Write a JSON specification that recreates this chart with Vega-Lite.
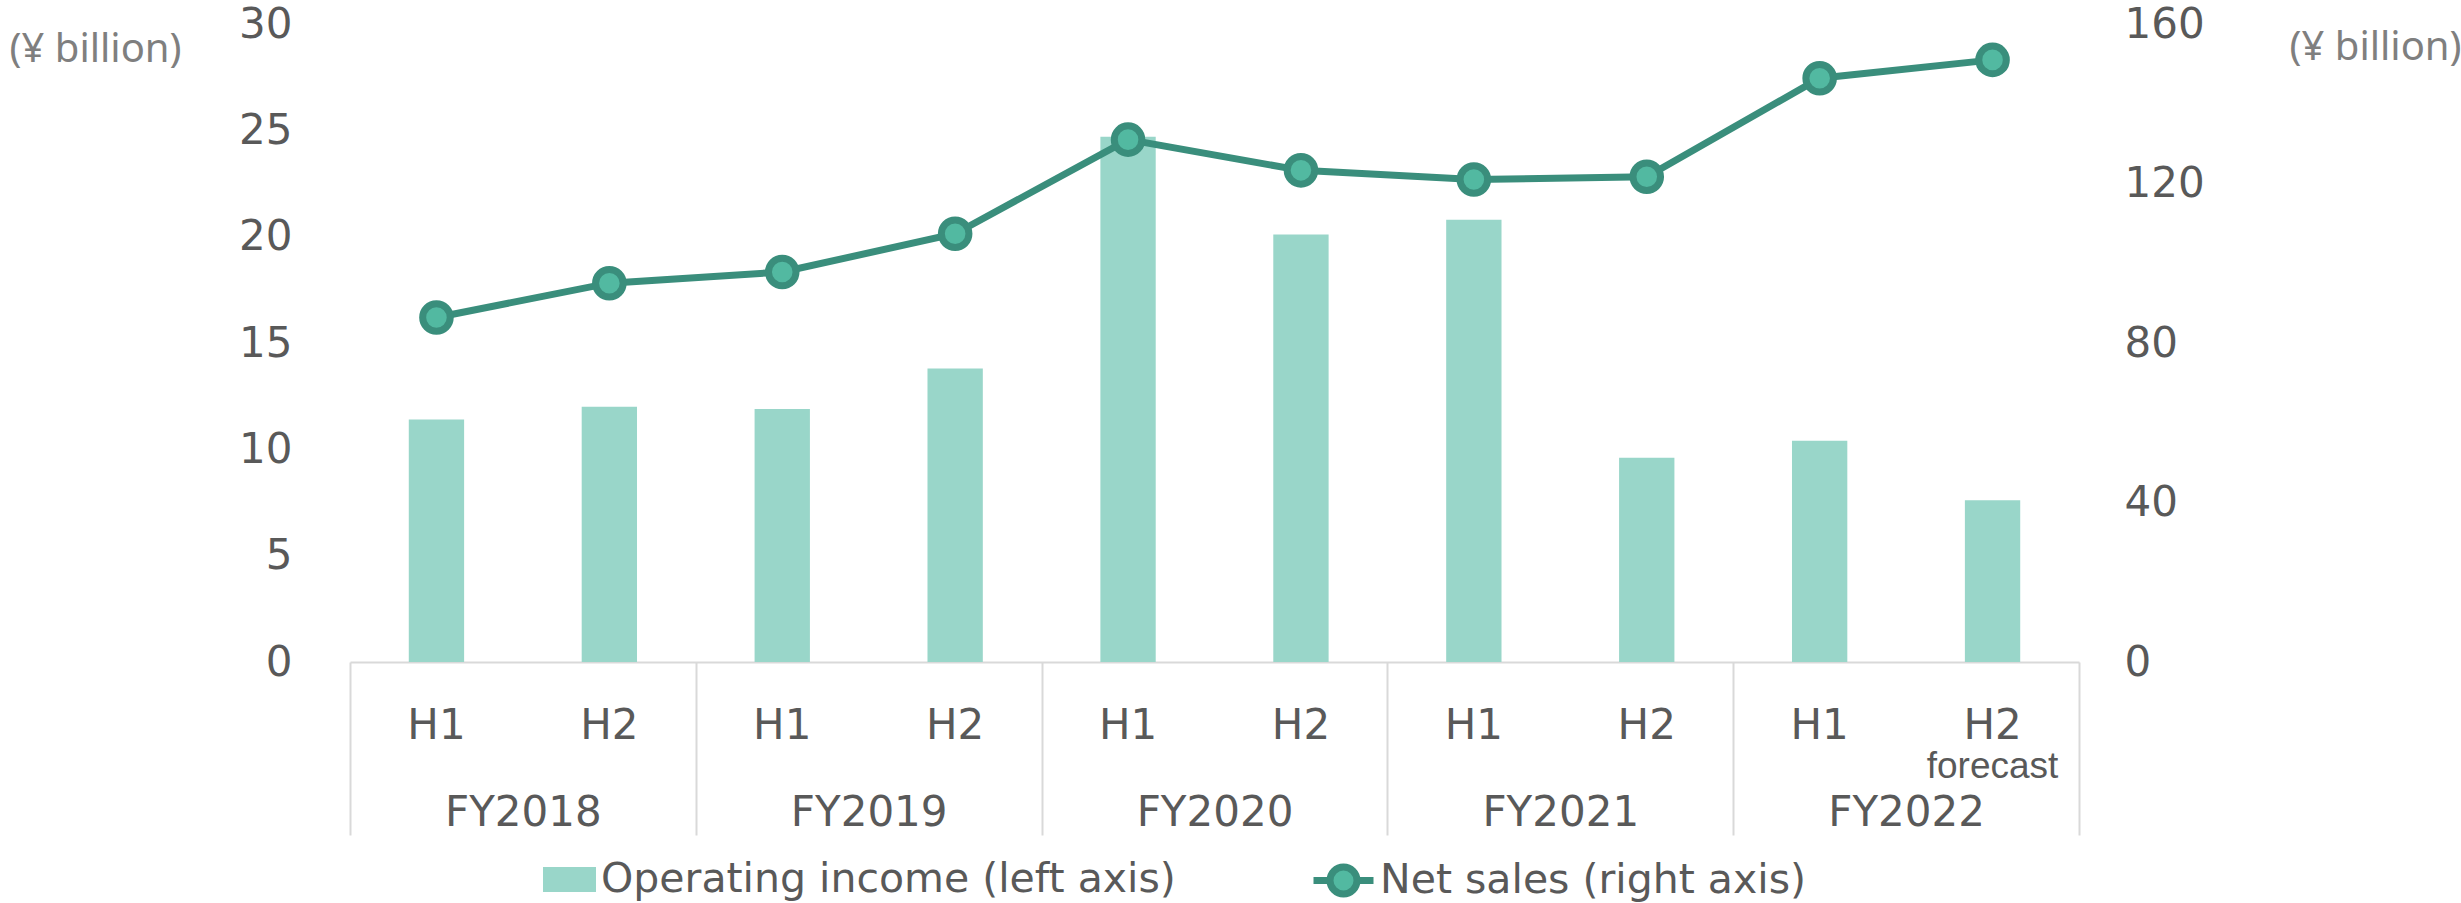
{
  "$schema": "https://vega.github.io/schema/vega-lite/v6.json",
  "width": 1729,
  "height": 638,
  "autosize": {"type": "none"},
  "padding": {"left": 350, "top": 24, "right": 382, "bottom": 241},
  "background": "white",
  "config": {"view": {"stroke": null}, "font": "DejaVu Sans"},
  "data": {
    "values": [
      {"period": "FY2018 H1", "fy": "FY2018", "op": 11.4, "sales": 86.4},
      {"period": "FY2018 H2", "fy": "FY2018", "op": 12.0, "sales": 95.0},
      {"period": "FY2019 H1", "fy": "FY2019", "op": 11.9, "sales": 97.8},
      {"period": "FY2019 H2", "fy": "FY2019", "op": 13.8, "sales": 107.4},
      {"period": "FY2020 H1", "fy": "FY2020", "op": 24.7, "sales": 131.0},
      {"period": "FY2020 H2", "fy": "FY2020", "op": 20.1, "sales": 123.3},
      {"period": "FY2021 H1", "fy": "FY2021", "op": 20.8, "sales": 121.0},
      {"period": "FY2021 H2", "fy": "FY2021", "op": 9.6, "sales": 121.7},
      {"period": "FY2022 H1", "fy": "FY2022", "op": 10.4, "sales": 146.4},
      {"period": "FY2022 H2", "fy": "FY2022", "op": 7.6, "sales": 151.0}
    ]
  },
  "layer": [
    {
      "mark": {"type": "bar"},
      "encoding": {
        "x": {
          "field": "period", "type": "nominal", "sort": null,
          "scale": {"type": "band", "paddingInner": 0.68, "paddingOuter": 0.34},
          "axis": {
            "orient": "bottom", "title": null,
            "labelExpr": "split(datum.value, ' ')[1]",
            "labelAngle": 0, "ticks": false, "tickSize": 0, "grid": false,
            "domainColor": "#D9D9D9", "domainWidth": 2,
            "labelFont": "DejaVu Sans", "labelFontSize": 42, "labelColor": "#595959",
            "labelPadding": 76, "labelBaseline": "alphabetic"
          }
        },
        "y": {
          "field": "op", "type": "quantitative",
          "scale": {"domain": [0, 30]},
          "axis": {
            "orient": "left", "values": [0, 5, 10, 15, 20, 25, 30],
            "grid": false, "domain": false, "ticks": false, "tickSize": 0,
            "labelPadding": 58, "labelFont": "DejaVu Sans", "labelFontSize": 42, "labelColor": "#595959",
            "title": "(¥ billion)", "titleAngle": 0, "titleAlign": "left", "titleBaseline": "alphabetic",
            "titleX": -341, "titleY": 37, "titleFont": "Noto Sans", "titleFontSize": 40,
            "titleFontWeight": "normal", "titleColor": "#7F7F7F"
          }
        },
        "fill": {
          "datum": "Operating income (left axis)", "type": "nominal",
          "scale": {"range": ["#99D6C9"]},
          "legend": {
            "orient": "none", "legendX": 193, "legendY": 829, "title": null, "padding": 0,
            "symbolType": "M-1,-0.472H1V0.472H-1Z", "symbolSize": 2809, "symbolStrokeWidth": 0,
            "labelFont": "DejaVu Sans", "labelFontSize": 41, "labelColor": "#595959",
            "labelOffset": 5, "labelLimit": 1000
          }
        }
      }
    },
    {
      "mark": {"type": "line", "strokeWidth": 7},
      "encoding": {
        "x": {
          "field": "period", "type": "nominal", "sort": null,
          "scale": {"type": "band", "paddingInner": 0.68, "paddingOuter": 0.34},
          "axis": null
        },
        "y": {
          "field": "sales", "type": "quantitative",
          "scale": {"domain": [0, 160]},
          "axis": {
            "orient": "right", "values": [0, 40, 80, 120, 160],
            "grid": false, "domain": false, "ticks": false, "tickSize": 0,
            "labelPadding": 45, "labelFont": "DejaVu Sans", "labelFontSize": 42, "labelColor": "#595959",
            "title": "(¥ billion)", "titleAngle": 0, "titleAlign": "left", "titleBaseline": "alphabetic",
            "titleX": 210, "titleY": 35, "titleFont": "Noto Sans", "titleFontSize": 40,
            "titleFontWeight": "normal", "titleColor": "#7F7F7F"
          }
        },
        "stroke": {
          "datum": "Net sales (right axis)", "type": "nominal",
          "scale": {"range": ["#3A8E7C"]},
          "legend": {
            "orient": "none", "legendX": 960, "legendY": 823, "title": null, "padding": 0,
            "symbolType": "M-1,0H-0.45M0.45,0H1M-0.45,0A0.45,0.45 0 1,0 0.45,0A0.45,0.45 0 1,0 -0.45,0Z",
            "symbolSize": 3600,
            "labelFont": "DejaVu Sans", "labelFontSize": 41, "labelColor": "#595959",
            "labelOffset": 3, "labelLimit": 1000,
            "encode": {
              "symbols": {
                "update": {
                  "fill": {"value": "#52B9A1"},
                  "stroke": {"value": "#3A8E7C"},
                  "strokeWidth": {"value": 7},
                  "opacity": {"value": 1}
                }
              }
            }
          }
        }
      }
    },
    {
      "mark": {"type": "point", "filled": true, "fill": "#52B9A1", "stroke": "#3A8E7C", "strokeWidth": 7, "size": 760, "opacity": 1},
      "encoding": {
        "x": {
          "field": "period", "type": "nominal", "sort": null,
          "scale": {"type": "band", "paddingInner": 0.68, "paddingOuter": 0.34},
          "axis": {
            "orient": "bottom", "title": null,
            "labelExpr": "datum.value == 'FY2022 H2' ? 'forecast' : ''",
            "labelAngle": 0, "domain": false, "ticks": false, "tickSize": 0, "grid": false,
            "labelFont": "Liberation Sans", "labelFontSize": 37, "labelColor": "#595959",
            "labelPadding": 115, "labelBaseline": "alphabetic"
          }
        },
        "y": {
          "field": "sales", "type": "quantitative",
          "scale": {"domain": [0, 160]},
          "axis": null
        }
      }
    },
    {
      "mark": {"type": "text", "opacity": 0},
      "encoding": {
        "x": {
          "field": "fy", "type": "nominal", "sort": null,
          "scale": {"type": "band", "paddingInner": 0, "paddingOuter": 0},
          "axis": {
            "orient": "bottom", "title": null, "labelAngle": 0,
            "domain": false, "ticks": true, "tickBand": "extent", "tickSize": 173,
            "tickColor": "#D9D9D9", "tickWidth": 2, "grid": false,
            "labelPadding": -10, "labelBaseline": "alphabetic",
            "labelFont": "DejaVu Sans", "labelFontSize": 42, "labelColor": "#595959"
          }
        },
        "text": {"value": ""}
      }
    }
  ],
  "resolve": {
    "scale": {"x": "independent", "y": "independent"},
    "axis": {"x": "independent", "y": "independent"}
  }
}
